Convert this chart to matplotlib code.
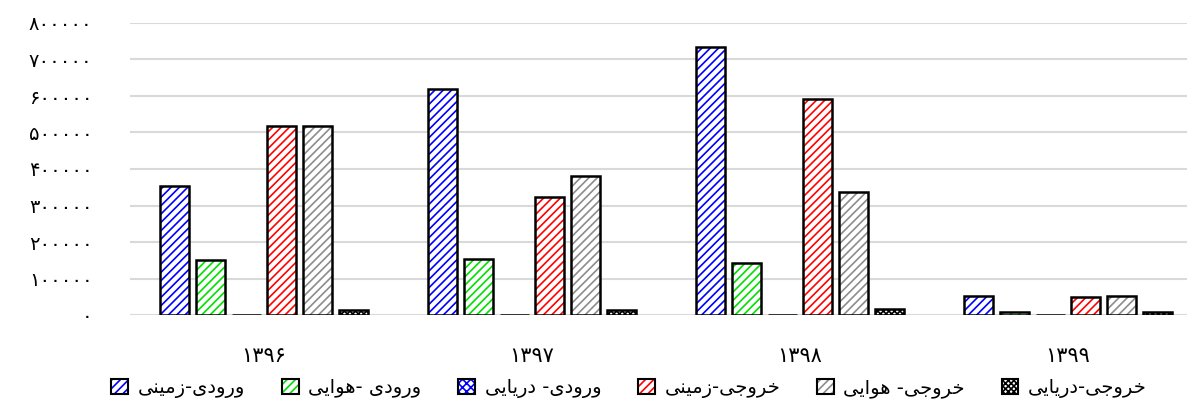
import numpy as np
import matplotlib
matplotlib.use('Agg')
import matplotlib.pyplot as plt
from matplotlib.patches import Patch
from matplotlib.legend_handler import HandlerTuple

# data
years = ['۱۳۹۶', '۱۳۹۷', '۱۳۹۸', '۱۳۹۹']
in_land = [353000, 619000, 734000, 52000]
in_air = [151000, 153000, 142000, 8000]
in_sea = [600, 600, 600, 600]
out_land = [518000, 323000, 592000, 49000]
out_air = [518000, 381000, 337000, 52000]
out_sea = [14000, 14000, 16000, 8000]

series_names = ['ورودی-زمینی', 'ورودی -هوایی', 'ورودی- دریایی',
                'خروجی-زمینی', 'خروجی- هوایی', 'خروجی-دریایی']
yticks = [0, 100000, 200000, 300000, 400000, 500000, 600000, 700000, 800000]

# simple persian shaping (matplotlib has no RTL support)
FORMS = {
    'ا': ('\uFE8D', '\uFE8E', None, None),
    'د': ('\uFEA9', '\uFEAA', None, None),
    'ر': ('\uFEAD', '\uFEAE', None, None),
    'ز': ('\uFEAF', '\uFEB0', None, None),
    'و': ('\uFEED', '\uFEEE', None, None),
    'ج': ('\uFE9D', '\uFE9E', '\uFE9F', '\uFEA0'),
    'خ': ('\uFEA5', '\uFEA6', '\uFEA7', '\uFEA8'),
    'م': ('\uFEE1', '\uFEE2', '\uFEE3', '\uFEE4'),
    'ن': ('\uFEE5', '\uFEE6', '\uFEE7', '\uFEE8'),
    'ه': ('\uFEE9', '\uFEEA', '\uFEEB', '\uFEEC'),
    'ی': ('\uFBFC', '\uFBFD', '\uFBFE', '\uFBFF'),
}


def shape(text):
    out = []
    for i, c in enumerate(text):
        if c not in FORMS:
            out.append(c)
            continue
        prev = text[i - 1] if i > 0 else ''
        nxt = text[i + 1] if i + 1 < len(text) else ''
        jp = prev in FORMS and FORMS[prev][2] is not None
        jn = FORMS[c][2] is not None and nxt in FORMS
        iso, fin, ini, med = FORMS[c]
        if jp and jn:
            out.append(med)
        elif jp:
            out.append(fin)
        elif jn:
            out.append(ini)
        else:
            out.append(iso)
    return ''.join(out)[::-1]


def fa_num(v):
    return str(v).translate(str.maketrans('0123456789', '۰۱۲۳۴۵۶۷۸۹'))


plt.rcParams['font.family'] = ['DejaVu Sans']
plt.rcParams['hatch.linewidth'] = 1.2

fig = plt.figure(figsize=(11.87, 4.07), dpi=100)
ax = fig.add_axes([130 / 1187, 1 - 315 / 407, 1 - 130 / 1187, (315 - 23) / 407])

data = [in_land, in_air, in_sea, out_land, out_air, out_sea]
hatch_cols = ['#0000ff', '#00e000', '#0000ff', '#ff0000', '#8c8c8c', '#000000']
hatches = ['////', '////', 'xxxx', '////', '////', 'xxxxxx']

x = np.arange(len(years))
w = 0.108
step = 0.1335
handles = []
for k in range(6):
    pos = x + (k - 2.5) * step
    ax.bar(pos, data[k], w, color='white', edgecolor=hatch_cols[k],
           hatch=hatches[k], linewidth=0, zorder=3)
    ax.bar(pos, data[k], w, fill=False, edgecolor='black', linewidth=1.8, zorder=4)
    h1 = Patch(facecolor='white', edgecolor=hatch_cols[k], hatch=hatches[k], linewidth=0)
    h2 = Patch(fill=False, edgecolor='black', linewidth=1.5)
    handles.append((h1, h2))

ax.set_xlim(-0.5, (1187 - 264) / 268)
ax.set_ylim(0, 800000)
ax.set_yticks(yticks)
ax.set_yticklabels([fa_num(v) for v in yticks], fontsize=14)
ax.set_xticks(x)
ax.set_xticklabels(years, fontsize=15)
ax.tick_params(axis='both', length=0)
ax.tick_params(axis='y', pad=27)
ax.tick_params(axis='x', pad=22)
ax.grid(axis='y', color='#d9d9d9', linewidth=1.5, zorder=0)
for s in ax.spines.values():
    s.set_visible(False)

fig.legend(handles, [shape(n) for n in series_names], ncol=6,
           loc='center', bbox_to_anchor=(0.53, 1 - 388 / 407), frameon=False,
           fontsize=14, handler_map={tuple: HandlerTuple(ndivide=1)},
           handlelength=0.85, handleheight=0.85, handletextpad=0.5, columnspacing=1.9)

fig.savefig('out.png', dpi=100)
